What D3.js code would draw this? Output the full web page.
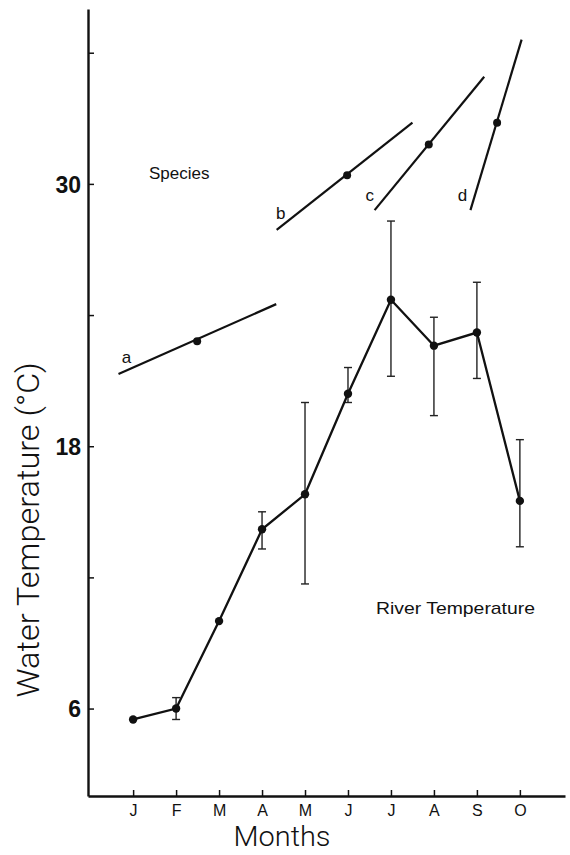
<!DOCTYPE html>
<html>
<head>
<meta charset="utf-8">
<script src="https://cdn.jsdelivr.net/npm/d3@7"></script>
<style>
  html, body { margin: 0; padding: 0; background: #fff; }
  svg { display: block; }
  text { font-family: "Liberation Sans", Arial, sans-serif; fill: #111; }
</style>
</head>
<body>
<script>
// ---- data ----
const months = ["J", "F", "M", "A", "M", "J", "J", "A", "S", "O"];
const riverTemp = [5.5, 6.0, 10.0, 14.2, 15.8, 20.4, 24.7, 22.6, 23.2, 15.5];
const errLow  = [null, 5.5, null, 13.3, 11.7, 20.0, 21.2, 19.4, 21.1, 13.4];
const errHigh = [null, 6.5, null, 15.0, 20.0, 21.6, 28.3, 23.9, 25.5, 18.3];
const yTicks = [6, 12, 18, 24, 30, 36];
const yTickLabels = [6, 18, 30];

const speciesNames = ["a", "b", "c", "d"];
const speciesStartX = [-0.34, 3.34, 5.62, 7.85];
const speciesStartY = [21.3, 27.9, 28.8, 28.8];
const speciesEndX = [3.33, 6.50, 8.17, 9.04];
const speciesEndY = [24.5, 32.8, 34.9, 36.6];
const speciesPointX = [1.49, 4.98, 6.88, 8.47];
const speciesPointY = [22.8, 30.4, 31.8, 32.8];

// ---- layout ----
const W = 570, H = 855;
const svg = d3.select("body").append("svg").attr("width", W).attr("height", H);

const x = d3.scaleLinear().domain([-1.05, 10.05]).range([88, 565]);
const y = d3.scaleLinear().domain([2, 38]).range([796, 9]);

// axes
const xAxis = d3.axisBottom(x)
  .tickValues(d3.range(months.length))
  .tickFormat(i => months[i])
  .tickSizeInner(-6).tickSizeOuter(0).tickPadding(9);
const gx = svg.append("g").attr("transform", `translate(0,${y(2)})`).call(xAxis);
gx.select(".domain").attr("stroke", "#111").attr("stroke-width", 2.4);
gx.selectAll(".tick line").attr("stroke", "#111").attr("stroke-width", 1.5);
gx.selectAll(".tick text").attr("font-size", 16).attr("fill", "#111")
  .style("font-family", '"Liberation Sans", Arial, sans-serif');

const yAxis = d3.axisLeft(y)
  .tickValues(yTicks)
  .tickFormat(d => yTickLabels.includes(d) ? d : "")
  .tickSizeInner(-6).tickSizeOuter(0).tickPadding(7);
const gy = svg.append("g").attr("transform", `translate(${x(-1.05)},0)`).call(yAxis);
gy.select(".domain").attr("stroke", "#111").attr("stroke-width", 2.4);
gy.selectAll(".tick line").attr("stroke", "#111").attr("stroke-width", 1.5);
gy.selectAll(".tick text").attr("font-size", 23).attr("font-weight", "bold").attr("fill", "#111")
  .attr("dy", "0.36em")
  .style("font-family", '"Liberation Sans", Arial, sans-serif');

// axis titles
svg.append("text")
  .attr("x", 282).attr("y", 846)
  .attr("text-anchor", "middle")
  .attr("font-size", 28)
  .attr("textLength", 97).attr("lengthAdjust", "spacingAndGlyphs")
  .style("font-family", "Roboto, sans-serif").style("font-weight", 300)
  .text("Months");

svg.append("text")
  .attr("transform", "translate(39,530) rotate(-90)")
  .attr("text-anchor", "middle")
  .attr("font-size", 31)
  .attr("textLength", 335).attr("lengthAdjust", "spacingAndGlyphs")
  .style("font-family", "Roboto, sans-serif").style("font-weight", 300)
  .text("Water  Temperature  (°C)");

// ---- species lines ----
const labelOffsets = [[8, -11], [4, -11], [-5, -9], [-8, -9]];
const sp = svg.append("g");
speciesNames.forEach((n, i) => {
  sp.append("line")
    .attr("x1", x(speciesStartX[i])).attr("y1", y(speciesStartY[i]))
    .attr("x2", x(speciesEndX[i])).attr("y2", y(speciesEndY[i]))
    .attr("stroke", "#111").attr("stroke-width", 2.2);
  sp.append("circle")
    .attr("cx", x(speciesPointX[i])).attr("cy", y(speciesPointY[i]))
    .attr("r", 4).attr("fill", "#111");
  sp.append("text")
    .attr("x", x(speciesStartX[i]) + labelOffsets[i][0])
    .attr("y", y(speciesStartY[i]) + labelOffsets[i][1])
    .attr("text-anchor", "middle")
    .attr("font-size", 17)
    .text(n);
});

svg.append("text").attr("x", 149).attr("y", 179).attr("font-size", 17).text("Species");
svg.append("text").attr("x", 376).attr("y", 614).attr("font-size", 17)
  .attr("textLength", 159).attr("lengthAdjust", "spacingAndGlyphs")
  .text("River Temperature");

// ---- river temperature ----
const eb = svg.append("g");
riverTemp.forEach((v, i) => {
  if (errLow[i] == null) return;
  const cx = x(i);
  eb.append("line").attr("x1", cx).attr("x2", cx)
    .attr("y1", y(errLow[i])).attr("y2", y(errHigh[i]))
    .attr("stroke", "#222").attr("stroke-width", 1.4);
  [errLow[i], errHigh[i]].forEach(e => {
    eb.append("line").attr("x1", cx - 4).attr("x2", cx + 4)
      .attr("y1", y(e)).attr("y2", y(e))
      .attr("stroke", "#222").attr("stroke-width", 1.4);
  });
});

const line = d3.line().x((d, i) => x(i)).y(d => y(d));
svg.append("path").datum(riverTemp)
  .attr("d", line).attr("fill", "none")
  .attr("stroke", "#111").attr("stroke-width", 2.3);

svg.append("g").selectAll("circle").data(riverTemp).join("circle")
  .attr("cx", (d, i) => x(i)).attr("cy", d => y(d))
  .attr("r", 4.2).attr("fill", "#111");
</script>
</body>
</html>
